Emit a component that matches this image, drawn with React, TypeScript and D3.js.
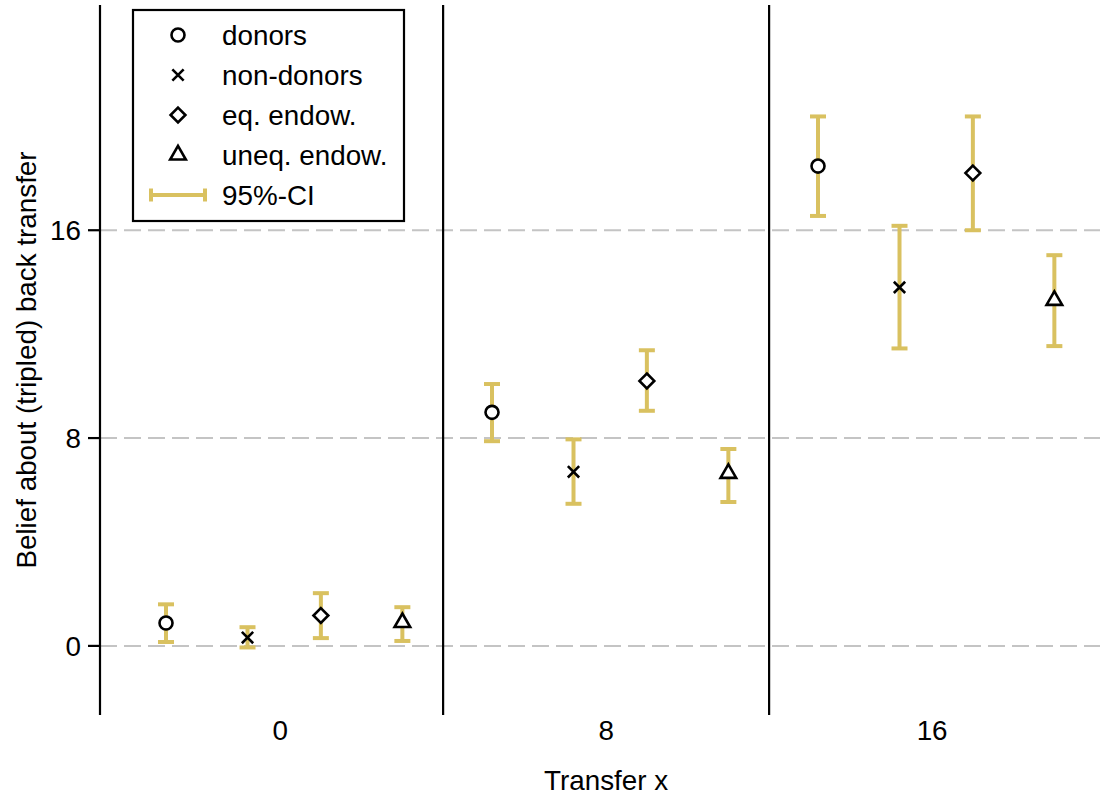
import React from "react";
import * as d3 from "d3";

// transfer levels shown on the x axis
const transfers = [0, 8, 16];
const separators = [4, 12];
const yTicks = [0, 8, 16];

// series, in legend order
const seriesNames = ["donors", "non-donors", "eq. endow.", "uneq. endow."];
const seriesOffsets = [-2.8, -0.8, 1.0, 3.0];

// means per transfer level (0, 8, 16)
const donorsMean = [0.88, 8.99, 18.47];
const nonDonorsMean = [0.32, 6.7, 13.8];
const eqMean = [1.17, 10.2, 18.2];
const uneqMean = [0.9, 6.64, 13.3];

// 95% confidence bounds
const donorsLow = [0.15, 7.88, 16.55];
const donorsHigh = [1.6, 10.08, 20.38];
const nonDonorsLow = [-0.06, 5.47, 11.45];
const nonDonorsHigh = [0.72, 7.95, 16.17];
const eqLow = [0.3, 9.05, 16.0];
const eqHigh = [2.03, 11.38, 20.38];
const uneqLow = [0.19, 5.54, 11.54];
const uneqHigh = [1.49, 7.58, 15.04];

const means = [donorsMean, nonDonorsMean, eqMean, uneqMean];
const lows = [donorsLow, nonDonorsLow, eqLow, uneqLow];
const highs = [donorsHigh, nonDonorsHigh, eqHigh, uneqHigh];

const width = 1100,
  height = 798,
  plotLeft = 100,
  plotRight = 1100,
  plotTop = 5,
  plotBottom = 715;

const ciColor = "#d9c160";
const font = "'Liberation Sans', Arial, sans-serif";
const fontSize = 27.8;

const symbols = [
  d3.symbol().type(d3.symbolCircle).size(133)(),
  d3.symbol().type(d3.symbolTimes).size(85)(),
  d3.symbol().type(d3.symbolDiamond2).size(140)(),
  d3.symbol().type(d3.symbolTriangle2).size(175)(),
];

const App = () => {
  const x = d3.scaleLinear().domain([-4.42, 20.12]).range([plotLeft, plotRight]);
  const y = d3.scaleLinear().domain([-2.66, 24.67]).range([plotBottom, plotTop]);
  const capHalf = 8;

  const points = seriesNames.flatMap((name, s) =>
    transfers.map((t, i) => ({
      s,
      name,
      cx: x(t + seriesOffsets[s]),
      mean: means[s][i],
      lo: lows[s][i],
      hi: highs[s][i],
    }))
  );

  const legendX = 133,
    legendY = 10,
    legendW = 271,
    legendH = 211,
    rowGap = 40;

  return (
    <svg
      width={width}
      height={height}
      viewBox={`0 0 ${width} ${height}`}
      style={{ position: "absolute", left: 0, top: 0, fontFamily: font }}
    >
      <rect width={width} height={height} fill="#fff" />

      {/* dashed grid */}
      {yTicks.map((v) => (
        <line
          key={`g${v}`}
          x1={plotLeft}
          x2={plotRight}
          y1={y(v)}
          y2={y(v)}
          stroke="#c4c4c4"
          strokeWidth={2}
          strokeDasharray="17 7"
        />
      ))}

      {/* panel separators */}
      {separators.map((v) => (
        <line
          key={`s${v}`}
          x1={x(v)}
          x2={x(v)}
          y1={plotTop}
          y2={plotBottom}
          stroke="#000"
          strokeWidth={2.2}
        />
      ))}

      {/* y axis */}
      <line x1={plotLeft} x2={plotLeft} y1={plotTop} y2={plotBottom} stroke="#000" strokeWidth={2.2} />
      {yTicks.map((v) => (
        <g key={`t${v}`}>
          <line x1={plotLeft - 12} x2={plotLeft} y1={y(v)} y2={y(v)} stroke="#000" strokeWidth={2.2} />
          <text x={plotLeft - 19} y={y(v) + 10} textAnchor="end" fontSize={fontSize} fill="#000">
            {v}
          </text>
        </g>
      ))}
      <text
        transform={`translate(36,${(plotTop + plotBottom) / 2}) rotate(-90)`}
        textAnchor="middle"
        fontSize={fontSize}
        fill="#000"
      >
        Belief about (tripled) back transfer
      </text>

      {/* x labels */}
      {transfers.map((t) => (
        <text key={`x${t}`} x={x(t)} y={740} textAnchor="middle" fontSize={fontSize} fill="#000">
          {t}
        </text>
      ))}
      <text x={x(8)} y={790} textAnchor="middle" fontSize={fontSize} fill="#000">
        Transfer x
      </text>

      {/* confidence intervals */}
      {points.map((p, i) => (
        <g key={`ci${i}`} stroke={ciColor} strokeWidth={4}>
          <line x1={p.cx} x2={p.cx} y1={y(p.lo)} y2={y(p.hi)} />
          <line x1={p.cx - capHalf} x2={p.cx + capHalf} y1={y(p.lo)} y2={y(p.lo)} />
          <line x1={p.cx - capHalf} x2={p.cx + capHalf} y1={y(p.hi)} y2={y(p.hi)} />
        </g>
      ))}

      {/* markers */}
      {points.map((p, i) => (
        <path
          key={`m${i}`}
          d={symbols[p.s]}
          transform={`translate(${p.cx},${y(p.mean)})`}
          fill={p.s === 1 ? "none" : "#fff"}
          stroke="#000"
          strokeWidth={2.6}
        />
      ))}

      {/* legend */}
      <rect
        x={legendX}
        y={legendY}
        width={legendW}
        height={legendH}
        fill="#fff"
        stroke="#000"
        strokeWidth={2.2}
      />
      {seriesNames.map((name, s) => (
        <g key={`l${s}`} transform={`translate(0,${legendY + 25 + s * rowGap})`}>
          <path
            d={symbols[s]}
            transform="translate(178,0)"
            fill={s === 1 ? "none" : "#fff"}
            stroke="#000"
            strokeWidth={2.6}
          />
          <text x={222} y={10} fontSize={fontSize} fill="#000">
            {name}
          </text>
        </g>
      ))}
      <g transform={`translate(0,${legendY + 25 + 4 * rowGap})`}>
        <g stroke={ciColor} strokeWidth={4}>
          <line x1={151} x2={205} y1={0} y2={0} />
          <line x1={151} x2={151} y1={-6.5} y2={6.5} />
          <line x1={205} x2={205} y1={-6.5} y2={6.5} />
        </g>
        <text x={222} y={10} fontSize={fontSize} fill="#000">
          95%-CI
        </text>
      </g>
    </svg>
  );
};

export default App;
